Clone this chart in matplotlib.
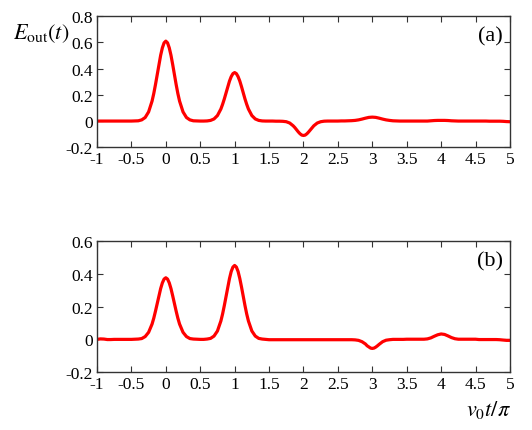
import numpy as np
import matplotlib
matplotlib.use("Agg")
import matplotlib.pyplot as plt

plt.rcParams['font.family'] = 'serif'
plt.rcParams['font.serif'] = ['Liberation Serif', 'DejaVu Serif']
plt.rcParams['mathtext.fontset'] = 'stix'
plt.rcParams['axes.unicode_minus'] = False
plt.rcParams['font.size'] = 12.5

# sampling grid in units of v0 t / pi, step 0.05 from -1 to 5
t = np.round(np.arange(-1.0, 5.0001, 0.05), 3)

# panel (a), values
e_out_a = [
    0, 0, 0, 0, 0, 0, 0, 0, 0, 0,                       # -1.00 .. -0.55
    0, 0.001, 0.002, 0.009, 0.027, 0.070, 0.152, 0.279, 0.431, 0.559,  # -0.50 .. -0.05
    0.610,                                              # 0.00
    0.559, 0.431, 0.279, 0.152, 0.070, 0.027, 0.009, 0.002, 0.001, 0,  # 0.05 .. 0.50
    0, 0.001, 0.005, 0.016, 0.042, 0.092, 0.169, 0.262, 0.339, 0.370,  # 0.55 .. 1.00
    0.339, 0.262, 0.169, 0.092, 0.042, 0.016, 0.005, 0.001, 0, 0,      # 1.05 .. 1.50
    0, -0.001, -0.001, -0.002, -0.005, -0.015, -0.036, -0.067, -0.097, -0.110,  # 1.55 .. 2.00
    -0.097, -0.067, -0.036, -0.015, -0.005, -0.001, 0, 0, 0, 0,        # 2.05 .. 2.50
    0.001, 0.001, 0.002, 0.003, 0.005, 0.009, 0.015, 0.022, 0.028, 0.030,  # 2.55 .. 3.00
    0.028, 0.022, 0.015, 0.009, 0.005, 0.002, 0.001, 0, 0, 0,          # 3.05 .. 3.50
    0, 0, 0, 0, 0, 0, 0.002, 0.004, 0.005, 0.005,                      # 3.55 .. 4.00
    0.005, 0.004, 0.002, 0.001, 0, 0, 0, 0, 0, 0,                      # 4.05 .. 4.50
    0, 0, 0, -0.001, -0.001, -0.001, -0.001, -0.002, -0.004, -0.005,   # 4.55 .. 5.00
]
# extra points read around the peaks and the dip of (a)
t_fine_a = [-0.175, -0.125, -0.075, -0.025, 0.025, 0.075, 0.125, 0.175,
            0.825, 0.875, 0.925, 0.975, 1.025, 1.075, 1.125, 1.175,
            1.875, 1.925, 1.975, 2.025, 2.075, 2.125]
e_fine_a = [0.210, 0.354, 0.502, 0.597, 0.597, 0.502, 0.354, 0.210,
            0.128, 0.215, 0.305, 0.362, 0.362, 0.305, 0.215, 0.128,
            -0.050, -0.083, -0.107, -0.107, -0.083, -0.050]

# panel (b)
e_out_b = [
    0.0, 0.003, 0.002, -0.001, -0.001, 0, 0, 0, 0, 0,                  # -1.00 .. -0.55
    0, 0.001, 0.002, 0.005, 0.017, 0.043, 0.093, 0.172, 0.265, 0.344,  # -0.50 .. -0.05
    0.375,                                                              # 0.00
    0.344, 0.265, 0.172, 0.093, 0.043, 0.017, 0.005, 0.002, 0.001, 0,  # 0.05 .. 0.50
    0, 0.002, 0.006, 0.020, 0.051, 0.112, 0.206, 0.318, 0.413, 0.450,  # 0.55 .. 1.00
    0.413, 0.318, 0.206, 0.112, 0.051, 0.020, 0.006, 0.002, 0, -0.002,  # 1.05 .. 1.50
    -0.002, -0.002, -0.002, -0.002, -0.002, -0.002, -0.002, -0.002, -0.002, -0.002,  # 1.55 .. 2.00
    -0.002, -0.002, -0.002, -0.002, -0.002, -0.002, -0.002, -0.002, -0.002, -0.002,  # 2.05 .. 2.50
    -0.002, -0.002, -0.002, -0.002, -0.003, -0.006, -0.014, -0.028, -0.046, -0.055,  # 2.55 .. 3.00
    -0.047, -0.030, -0.014, -0.005, -0.002, 0, 0, 0, 0, 0.001,         # 3.05 .. 3.50
    0.001, 0.001, 0.001, 0.001, 0.001, 0.003, 0.009, 0.019, 0.028, 0.033,  # 3.55 .. 4.00
    0.030, 0.021, 0.011, 0.004, 0.001, 0.001, 0.001, 0.001, 0.001, 0.001,  # 4.05 .. 4.50
    -0.001, -0.001, -0.001, -0.001, -0.001, -0.001, -0.002, -0.004, -0.006, -0.006,  # 4.55 .. 5.00
]
t_fine_b = [-0.175, -0.125, -0.075, -0.025, 0.025, 0.075, 0.125, 0.175,
            0.825, 0.875, 0.925, 0.975, 1.025, 1.075, 1.125, 1.175,
            2.925, 2.975, 3.025, 3.075]
e_fine_b = [0.129, 0.218, 0.309, 0.367, 0.367, 0.309, 0.218, 0.129,
            0.155, 0.261, 0.370, 0.440, 0.440, 0.370, 0.261, 0.155,
            -0.039, -0.053, -0.053, -0.039]

x_ticks = [-1, -0.5, 0, 0.5, 1, 1.5, 2, 2.5, 3, 3.5, 4, 4.5, 5]
x_labels = ['-1', '-0.5', '0', '0.5', '1', '1.5', '2', '2.5', '3', '3.5', '4', '4.5', '5']
y_ticks_a = [-0.2, 0, 0.2, 0.4, 0.6, 0.8]
y_labels_a = ['-0.2', '0', '0.2', '0.4', '0.6', '0.8']
y_ticks_b = [-0.2, 0, 0.2, 0.4, 0.6]
y_labels_b = ['-0.2', '0', '0.2', '0.4', '0.6']


def merge(t_coarse, y_coarse, t_fine, y_fine):
    tt = np.concatenate([t_coarse, t_fine])
    yy = np.concatenate([y_coarse, y_fine])
    order = np.argsort(tt, kind='stable')
    return tt[order], yy[order]


fig = plt.figure(figsize=(5.32, 4.31), dpi=100)
ax_a = fig.add_axes([0.1823, 0.656, 0.7763, 0.304])
ax_b = fig.add_axes([0.1823, 0.134, 0.7763, 0.305])

panels = [
    (ax_a, merge(t, e_out_a, t_fine_a, e_fine_a), y_ticks_a, y_labels_a, (-0.2, 0.8), '(a)'),
    (ax_b, merge(t, e_out_b, t_fine_b, e_fine_b), y_ticks_b, y_labels_b, (-0.2, 0.6), '(b)'),
]
for ax, (tx, y), yt, yl, ylim, tag in panels:
    ax.plot(tx, y, color='#ff0000', lw=2.3, solid_capstyle='round', solid_joinstyle='round')
    ax.set_xlim(-1, 5)
    ax.set_ylim(*ylim)
    ax.set_xticks(x_ticks)
    ax.set_xticklabels(x_labels)
    ax.set_yticks(yt)
    ax.set_yticklabels(yl)
    ax.tick_params(direction='in', length=4, width=0.8, top=True, right=True,
                   labelsize=12.5, colors='#333333', labelcolor='black', pad=3)
    for sp in ax.spines.values():
        sp.set_color('#333333')
        sp.set_linewidth(1.0)
    ax.text(0.982, 0.85, tag, transform=ax.transAxes, ha='right', va='center', fontsize=16)

fig.text(0.025, 0.923, r'$E_{\rm out}(t)$', fontsize=16, ha='left', va='center')
fig.text(0.96, 0.048, r'$v_0t/\pi$', fontsize=16, ha='right', va='center')

fig.savefig('out.png', dpi=100)
